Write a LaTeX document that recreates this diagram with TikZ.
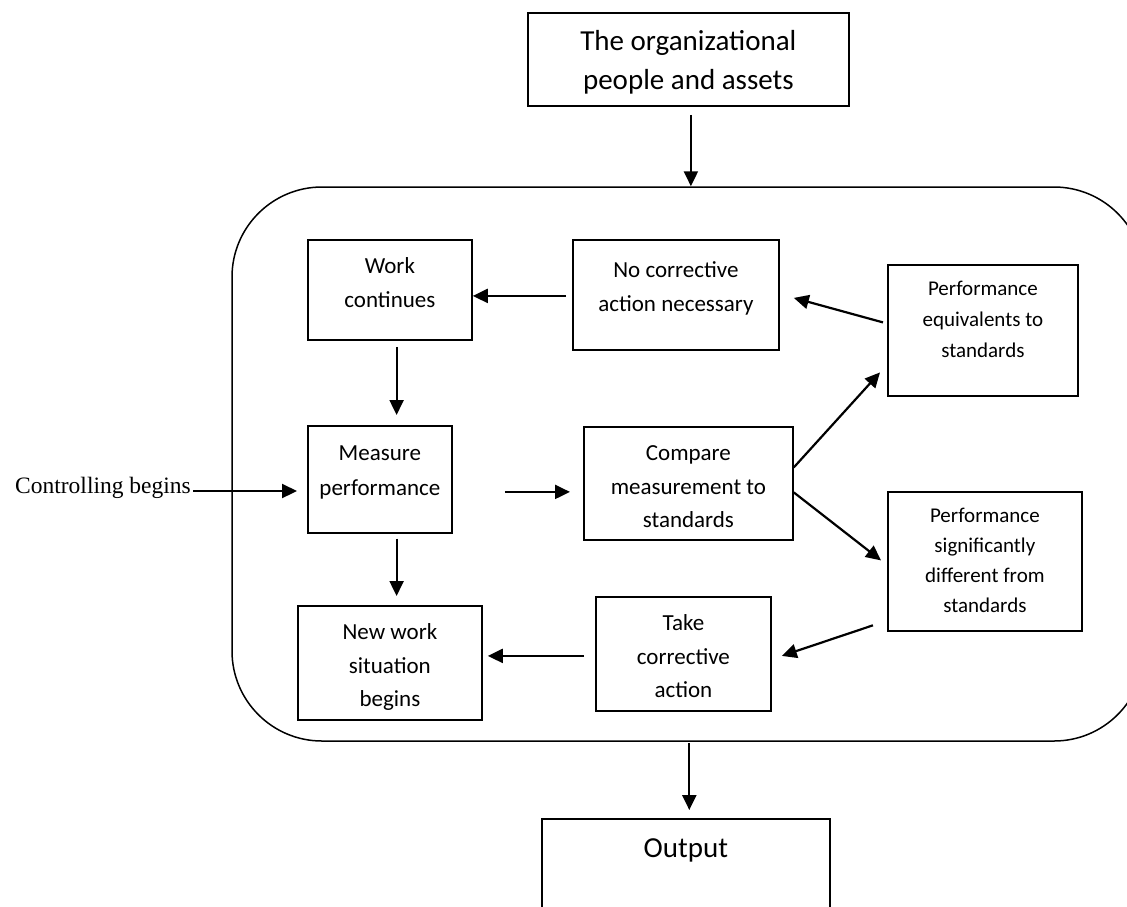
\documentclass[tikz,border=0pt]{standalone}
\usepackage{fontspec}
\setmainfont{Carlito}
\newfontfamily\tnr{Liberation Serif}
\usetikzlibrary{arrows.meta,calc}
\newcommand{\bxt}[6]{\parbox[c][#2pt][t]{#1pt}{\centering\fontsize{#3pt}{#4pt}\selectfont\rule{0pt}{#5pt}#6\par}}
\begin{document}
\begin{tikzpicture}[x=1pt,y=-1pt,
  box/.style={draw, line width=1.8pt, inner sep=0pt, anchor=north west},
  frm/.style={draw, line width=1.5pt, rounded corners=90pt, inner sep=0pt},
  arr/.style={-{Triangle[length=15pt,width=14pt]}, line width=2.2pt}]
\useasboundingbox (0,0) rectangle (1127,906);

\node[frm, minimum width=912pt, minimum height=554pt] (frame) at (688,464) {};

\node[box] (title) at (527,12) {\bxt{321}{93}{29}{39}{38}{The organizational\hspace*{30pt}\\people and assets}};
\node[box] (work) at (307,239) {\bxt{164}{100}{23}{34}{34}{Work\\continues}};
\node[box] (nocorr) at (572,239) {\bxt{206}{110}{23}{34}{38}{No corrective\\action necessary}};
\node[box] (perfeq) at (887,264) {\bxt{190}{131}{21}{31}{31}{Performance\\equivalents to\\standards}};
\node[box] (measure) at (307,425) {\bxt{144}{107}{23}{35}{35}{Measure\\performance}};
\node[box] (compare) at (583,426) {\bxt{209}{113}{23}{33.5}{34}{Compare\\measurement to\\standards}};
\node[box] (perfsig) at (887,491) {\bxt{194}{139}{21}{30}{31}{Performance\\significantly\\different from\\standards}};
\node[box] (new) at (297,605) {\bxt{184}{114}{23}{33.5}{34}{New work\\situation\\begins}};
\node[box] (take) at (595,596) {\bxt{175}{114}{23}{33.5}{34}{Take\\corrective\\action}};
\node[box] (output) at (541,818) {\bxt{288}{110}{29}{39}{39}{Output}};
\node[anchor=base east, inner sep=0pt, font=\tnr\fontsize{23.5pt}{28pt}\selectfont] (ctrl) at (191,493) {Controlling begins};

\coordinate (a1) at ($(title.south)+(2.5,8)$);
\draw[arr] (a1) -- (a1 |- frame.north);

\coordinate (a2) at ($(nocorr.west)+(-6,1)$);
\draw[arr] (a2) -- (a2 -| work.east);

\draw[arr] ($(perfeq.west)+(-4,-8)$) -- ($(nocorr.east)+(14,3)$);

\coordinate (a4) at ($(work.south)+(6.7,6)$);
\draw[arr, shorten >=10pt] (a4) -- (a4 |- measure.north);

\coordinate (a5) at ($(ctrl.base east)+(2,-2)$);
\draw[arr, shorten >=10pt] (a5) -- (a5 -| measure.west);

\coordinate (a6) at ($(measure.east)+(52,12.5)$);
\draw[arr, shorten >=13pt] (a6) -- (a6 -| compare.west);

\draw[arr] ($(compare.east)+(0,-16)$) -- ($(perfeq.west)+(-7,42)$);
\draw[arr] ($(compare.east)+(0,9)$) -- ($(perfsig.west)+(-6,-1)$);
\draw[arr] ($(perfsig.south west)+(-14,-6.5)$) -- ($(take.east)+(10,2)$);

\coordinate (a10) at ($(take.west)+(-11,2)$);
\draw[arr, shorten >=5pt] (a10) -- (a10 -| new.east);

\coordinate (a11) at ($(measure.south)+(16.7,4.7)$);
\draw[arr, shorten >=9pt] (a11) -- (a11 |- new.north);

\coordinate (a12) at ($(frame.south)+(1.3,1)$);
\draw[arr, shorten >=8pt] (a12) -- (a12 |- output.north);
\end{tikzpicture}
\end{document}
